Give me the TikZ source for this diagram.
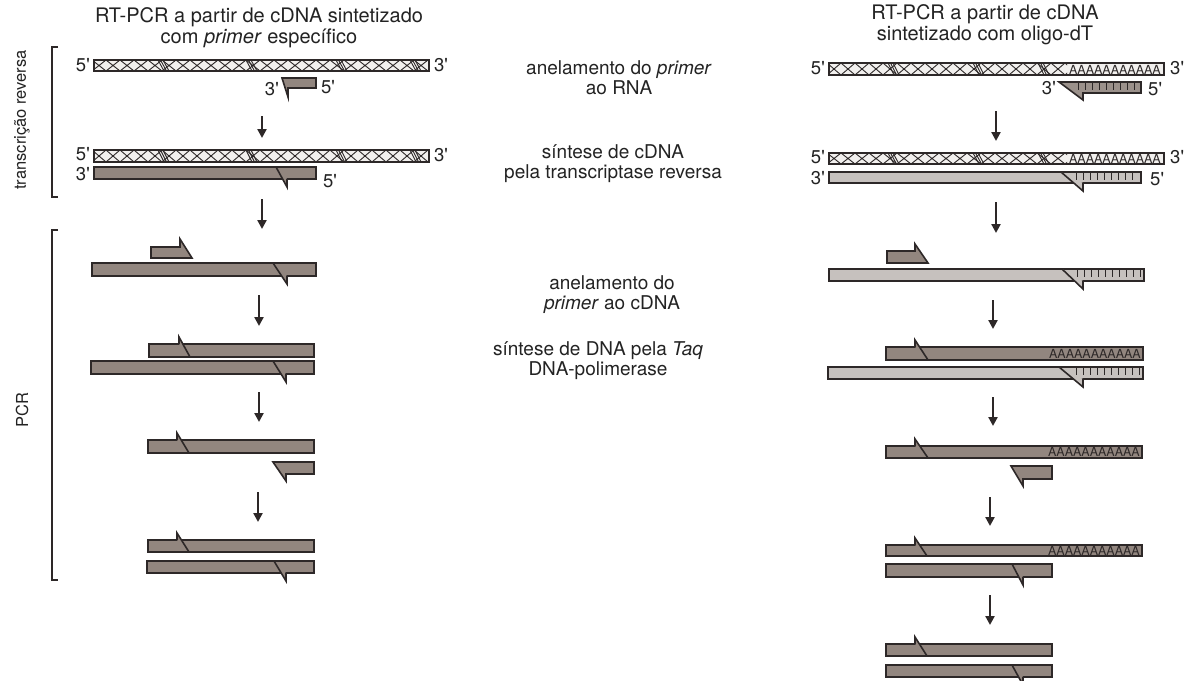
\documentclass[tikz,border=0pt]{standalone}
\usepackage{fontspec}
\setmainfont{TeX Gyre Heros}
\usetikzlibrary{arrows.meta}
\definecolor{dk}{RGB}{146,134,127}
\definecolor{lt}{RGB}{198,193,190}
\definecolor{rnaf}{RGB}{242,240,238}
\definecolor{olig}{RGB}{155,145,139}
\definecolor{ink}{RGB}{45,40,40}
\definecolor{txt}{RGB}{35,35,35}
\tikzset{
 strk/.style={draw=ink, line width=1.6pt, line join=miter},
 dkbar/.style={fill=dk, strk},
 ltbar/.style={fill=lt, strk},
 hatchln/.style={draw=ink, line width=0.9pt},
 tickln/.style={draw=ink, line width=0.9pt},
 arr/.style={draw=ink, line width=2.4pt, -{Triangle[width=9pt,length=9pt]}},
 lbl/.style={font=\fontsize{18.5}{18.5}\selectfont, text=txt, inner sep=1pt},
 ttl/.style={font=\fontsize{20}{21}\selectfont, text=txt, align=center, inner sep=0pt},
 midtxt/.style={font=\fontsize{19}{20}\selectfont, text=txt, align=center, inner sep=0pt},
 side/.style={font=\fontsize{16.5}{17}\selectfont, text=txt, rotate=90, inner sep=0pt},
 brk/.style={draw=ink, line width=1.5pt},
 polyA/.style={font=\fontsize{12.5}{12.5}\selectfont, text=ink, inner sep=0pt},
}
\newcommand{\fivep}{5\textquotesingle}
\newcommand{\threep}{3\textquotesingle}
% style, x1, x2, ytop, ybot
\newcommand{\strand}[5]{\filldraw[#1] (#2,#4) rectangle (#3,#5);}
% fill, xa, xb, ytop, ybot
\newcommand{\barbdn}[5]{%
  \fill[#1] (#2,#4) -- (#3,#5+8) -- (#3,#5) -- cycle;
  \draw[strk] (#2,#4) -- (#3,#5+8) -- (#3,#5);}
\newcommand{\barbup}[5]{%
  \fill[#1] (#2,#4-7) -- (#2,#4) -- (#3,#5) -- cycle;
  \draw[strk] (#3,#5) -- (#2,#4-7) -- (#2,#4);}
% x1, x2, ytop, ybot
\newcommand{\rnahatch}[4]{%
  \begin{scope}
  \clip (#1,#3) rectangle (#2,#4);
  \pgfmathsetmacro\hh{#4-#3}
  \foreach \i in {0,...,26} {
    \draw[hatchln] (#1-2+14*\i,#3) -- ++(14,\hh) (#1-2+14*\i,#4) -- ++(14,-\hh);
  }
  \end{scope}}
% x, ytop, ybot
\newcommand{\rnacl}[3]{%
  \foreach \d in {0,2.5,5} {\draw[hatchln] (#1+\d,#2) -- (#1+\d+6,#3);}}
\begin{document}
\begin{tikzpicture}[x=1pt,y=-1pt]
\useasboundingbox (0,0) rectangle (1196,680);
\fill[white] (0,0) rectangle (1196,680);
\begin{scope}
\clip (0,0) rectangle (1196,680);

%================ LEFT COLUMN ================
\node[ttl] (t1) at (259,27.5) {RT-PCR a partir de cDNA sintetizado\\com \textit{primer} específico};

% brackets and side labels
\draw[brk] (58,47) -- (52,47) -- (52,197) -- (58,197);
\draw[brk] (58,230) -- (52,230) -- (52,580) -- (58,580);
\node[side] (s1) at (22,120) {transcrição reversa};
\node[side] (s2) at (22,410) {PCR};

% row 1: RNA + primer
\fill[rnaf] (94,60) rectangle (429,71);
\rnahatch{94}{429}{60}{71}
\rnacl{158}{60}{71}\rnacl{246}{60}{71}\rnacl{336}{60}{71}\rnacl{410}{60}{71}
\draw[strk] (94,60) rectangle (429,71);
\node[lbl, anchor=east] (l1) at (91,65) {\fivep};
\node[lbl, anchor=west] (l2) at (433,65) {\threep};
\filldraw[fill=dk, strk] (282,78) -- (316,78) -- (316,88) -- (288,88) -- (288,97) -- cycle;
\node[lbl, anchor=east] (l3) at (280,89) {\threep};
\node[lbl, anchor=west] (l4) at (320,87) {\fivep};

\coordinate (a1s) at (262,116); \coordinate (a1e) at (262,138);
\draw[arr] (a1s) -- (a1e);

% row 2: RNA + cDNA
\fill[rnaf] (94,150) rectangle (429,162);
\rnahatch{94}{429}{150}{162}
\rnacl{158}{150}{162}\rnacl{246}{150}{162}\rnacl{336}{150}{162}\rnacl{410}{150}{162}
\draw[strk] (94,150) rectangle (429,162);
\strand{dkbar}{94}{316}{167}{179}
\barbdn{dk}{276}{287}{167}{179}
\node[lbl, anchor=east] (l5) at (91,154) {\fivep};
\node[lbl, anchor=west] (l6) at (433,155) {\threep};
\node[lbl, anchor=east] (l7) at (91,174) {\threep};
\node[lbl, anchor=west] (l8) at (322,181) {\fivep};

\coordinate (a2s) at (262,199); \coordinate (a2e) at (262,229);
\draw[arr] (a2s) -- (a2e);

% row 3
\filldraw[fill=dk, strk] (151,247) -- (180,247) -- (180,239) -- (192,258) -- (151,258) -- cycle;
\strand{dkbar}{92}{316}{263}{276}
\barbdn{dk}{273}{287}{263}{276}

\coordinate (a3s) at (259,295); \coordinate (a3e) at (259,326);
\draw[arr] (a3s) -- (a3e);

% row 4
\strand{dkbar}{149}{314}{344}{357}
\barbup{dk}{179}{190}{344}{357}
\strand{dkbar}{91}{314}{361}{374}
\barbdn{dk}{273}{286}{361}{374}

\coordinate (a4s) at (259,392); \coordinate (a4e) at (259,422);
\draw[arr] (a4s) -- (a4e);

% row 5
\strand{dkbar}{148}{314}{440}{453}
\barbup{dk}{177}{189}{440}{453}
\filldraw[fill=dk, strk] (273,462) -- (314,462) -- (314,474) -- (286,474) -- (286,481) -- cycle;

\coordinate (a5s) at (258,492); \coordinate (a5e) at (258,522);
\draw[arr] (a5s) -- (a5e);

% row 6
\strand{dkbar}{148}{314}{540}{552}
\barbup{dk}{177}{189}{540}{552}
\strand{dkbar}{147}{314}{561}{573}
\barbdn{dk}{274}{286}{561}{573}

%================ MIDDLE TEXTS ================
\node[midtxt] (m1) at (619,78) {anelamento do \textit{primer}\\ao RNA};
\node[midtxt] (m2) at (613,164) {síntese de cDNA\\pela transcriptase reversa};
\node[midtxt] (m3) at (612,295) {anelamento do\\\textit{primer} ao cDNA};
\node[midtxt] (m4) at (598,361) {síntese de DNA pela \textit{Taq}\\DNA-polimerase};

%================ RIGHT COLUMN ================
\node[ttl] (t2) at (985,25) {RT-PCR a partir de cDNA\\sintetizado com oligo-dT};

% row 1
\fill[rnaf] (829,63) rectangle (1164,75);
\rnahatch{829}{1067}{63}{75}
\rnacl{888}{63}{75}\rnacl{973}{63}{75}\rnacl{1038}{63}{75}
\node[polyA, anchor=east] (pa1) at (1161,69.5) {AAAAAAAAAAA};
\draw[strk] (829,63) rectangle (1164,75);
\node[lbl, anchor=east] (r1) at (826,68) {\fivep};
\node[lbl, anchor=west] (r2) at (1169,68) {\threep};
\filldraw[fill=olig, strk] (1059,82) -- (1141,82) -- (1141,93) -- (1083,93) -- (1083,100) -- cycle;
\foreach \t in {1078,1085,...,1136} {\draw[tickln] (\t,82) -- (\t,90);}
\node[lbl, anchor=east] (r3) at (1057,88) {\threep};
\node[lbl, anchor=west] (r4) at (1147,89) {\fivep};

\coordinate (b1s) at (996,111); \coordinate (b1e) at (996,141);
\draw[arr] (b1s) -- (b1e);

% row 2
\fill[rnaf] (829,153) rectangle (1164,164);
\rnahatch{829}{1067}{153}{164}
\rnacl{888}{153}{164}\rnacl{973}{153}{164}\rnacl{1038}{153}{164}
\node[polyA, anchor=east] (pa2) at (1161,158.5) {AAAAAAAAAAA};
\draw[strk] (829,153) rectangle (1164,164);
\strand{ltbar}{829}{1141}{172}{183}
\barbdn{lt}{1061}{1083}{172}{183}
\foreach \t in {1076,1083,...,1136} {\draw[tickln] (\t,172) -- (\t,180);}
\node[lbl, anchor=east] (r5) at (826,157) {\fivep};
\node[lbl, anchor=west] (r6) at (1169,157) {\threep};
\node[lbl, anchor=east] (r7) at (826,178) {\threep};
\node[lbl, anchor=west] (r8) at (1149,179) {\fivep};

\coordinate (b2s) at (996,202); \coordinate (b2e) at (996,233);
\draw[arr] (b2s) -- (b2e);

% row 3
\filldraw[fill=dk, strk] (887,251) -- (915,251) -- (915,244) -- (928,263) -- (887,263) -- cycle;
\strand{ltbar}{829}{1144}{269}{281}
\barbdn{lt}{1062}{1083}{269}{281}
\foreach \t in {1077,1084,...,1140} {\draw[tickln] (\t,269) -- (\t,277);}

\coordinate (b3s) at (993,300); \coordinate (b3e) at (993,329);
\draw[arr] (b3s) -- (b3e);

% row 4
\strand{dkbar}{886}{1143}{347}{360}
\barbup{dk}{915}{928}{347}{360}
\node[polyA, anchor=east] (pa3) at (1141,353.5) {AAAAAAAAAAA};
\strand{ltbar}{828}{1143}{367}{379}
\barbdn{lt}{1059}{1083}{367}{379}
\foreach \t in {1076,1083,...,1139} {\draw[tickln] (\t,367) -- (\t,375);}

\coordinate (b4s) at (993,397); \coordinate (b4e) at (993,426);
\draw[arr] (b4s) -- (b4e);

% row 5
\strand{dkbar}{886}{1142}{446}{458}
\barbup{dk}{915}{928}{446}{458}
\node[polyA, anchor=east] (pa4) at (1140,452) {AAAAAAAAAAA};
\filldraw[fill=dk, strk] (1011,466) -- (1052,466) -- (1052,479) -- (1023,479) -- (1023,486) -- cycle;

\coordinate (b5s) at (990,497); \coordinate (b5e) at (990,526);
\draw[arr] (b5s) -- (b5e);

% row 6
\strand{dkbar}{886}{1142}{545}{556}
\barbup{dk}{915}{927}{545}{556}
\node[polyA, anchor=east] (pa5) at (1140,550.5) {AAAAAAAAAAA};
\strand{dkbar}{886}{1052}{564}{577}
\barbdn{dk}{1012}{1023}{564}{577}

\coordinate (b6s) at (990,595); \coordinate (b6e) at (990,625);
\draw[arr] (b6s) -- (b6e);

% row 7
\strand{dkbar}{886}{1052}{644}{656}
\barbup{dk}{915}{927}{644}{656}
\strand{dkbar}{886}{1052}{665}{677}
\barbdn{dk}{1012}{1023}{665}{677}
\end{scope}
\end{tikzpicture}
\end{document}
